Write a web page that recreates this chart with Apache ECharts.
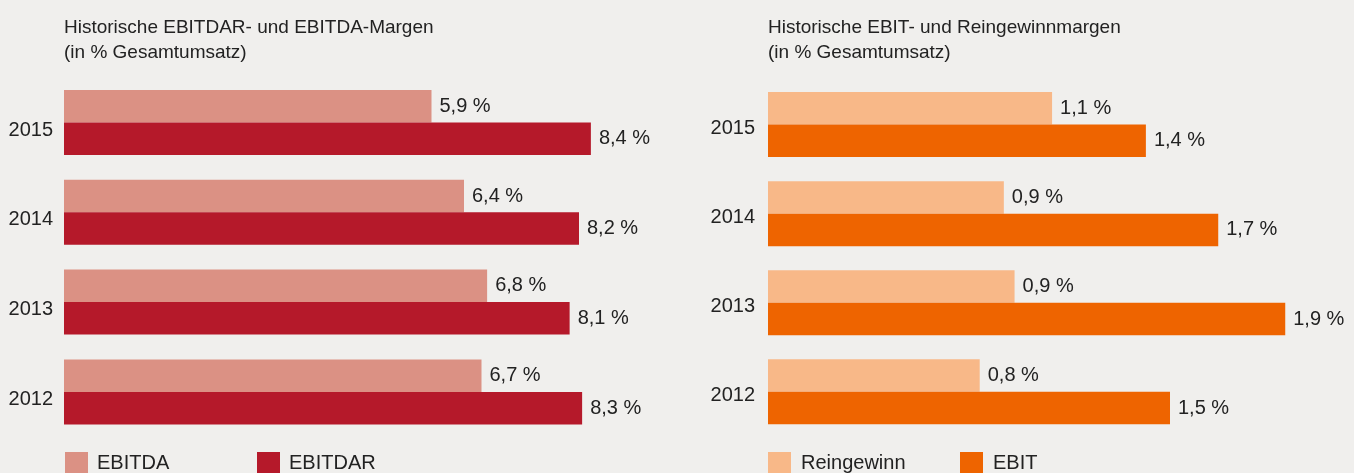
<!DOCTYPE html>
<html>
<head>
<meta charset="utf-8">
<script src="https://cdn.jsdelivr.net/npm/echarts@6/dist/echarts.min.js"></script>
<style>
  html, body { margin: 0; padding: 0; background: #f0efed; }
  #chart { width: 1354px; height: 473px; }
</style>
</head>
<body>
<div id="chart"></div>
<script>
// Jahre (oben nach unten)
const years = ['2015', '2014', '2013', '2012'];

// linkes Diagramm: EBITDA / EBITDAR in % Gesamtumsatz
const ebitda = [5.88, 6.40, 6.77, 6.68];
const ebitdar = [8.43, 8.24, 8.09, 8.29];

// rechtes Diagramm: Reingewinn / EBIT in % Gesamtumsatz
const reingewinn = [1.06, 0.88, 0.92, 0.79];
const ebit = [1.41, 1.68, 1.93, 1.50];

const TEXT = '#222222';
const FONT = 'Liberation Sans, Arial, Helvetica, sans-serif';

const fmt = (p) => p.value.toFixed(1).replace('.', ',') + ' %';

function valueLabel() {
  return {
    show: true,
    position: 'right',
    distance: 8,
    formatter: fmt,
    color: TEXT,
    fontFamily: FONT,
    fontSize: 20
  };
}

function legendItem(name, left, pad) {
  return {
    data: [name],
    left: left,
    top: 452,
    icon: 'rect',
    itemWidth: 23,
    itemHeight: 23,
    padding: 0,
    selectedMode: false,
    textStyle: { color: TEXT, fontFamily: FONT, fontSize: 20, padding: [0, 0, 0, pad] }
  };
}

function yearAxis(grid, margin, shift) {
  // Jahreszahlen sitzen etwas unter der Mitte der Balkengruppe
  return {
    gridIndex: grid, type: 'category', data: years, inverse: true,
    axisLine: { show: false }, axisTick: { show: false },
    axisLabel: {
      color: TEXT, fontFamily: FONT, fontSize: 20, margin: margin,
      verticalAlign: 'top', lineHeight: shift * 2
    }
  };
}

const chart = echarts.init(document.getElementById('chart'));

chart.setOption({
  backgroundColor: '#f0efed',
  animation: false,
  title: [
    {
      text: 'Historische EBITDAR- und EBITDA-Margen\n(in % Gesamtumsatz)',
      left: 64, top: 15, padding: 0,
      textStyle: { color: TEXT, fontFamily: FONT, fontSize: 19, fontWeight: 'normal', lineHeight: 25.5 }
    },
    {
      text: 'Historische EBIT- und Reingewinnmargen\n(in % Gesamtumsatz)',
      left: 768, top: 15, padding: 0,
      textStyle: { color: TEXT, fontFamily: FONT, fontSize: 19, fontWeight: 'normal', lineHeight: 25.5 }
    }
  ],
  legend: [
    legendItem('EBITDA', 65, 4),
    legendItem('EBITDAR', 257, 4),
    legendItem('Reingewinn', 768, 5),
    legendItem('EBIT', 960, 5)
  ],
  grid: [
    { left: 64, top: 77.6, width: 625, height: 359.2 },
    { left: 768, top: 80, width: 536, height: 356.4 }
  ],
  xAxis: [
    { gridIndex: 0, type: 'value', min: 0, max: 10, show: false },
    { gridIndex: 1, type: 'value', min: 0, max: 2, show: false }
  ],
  yAxis: [
    yearAxis(0, 11, 7.5),
    yearAxis(1, 13, 4)
  ],
  series: [
    {
      name: 'EBITDA', type: 'bar', xAxisIndex: 0, yAxisIndex: 0,
      data: ebitda, barWidth: 32.5, barGap: '0%',
      itemStyle: { color: '#db9184' }, label: valueLabel()
    },
    {
      name: 'EBITDAR', type: 'bar', xAxisIndex: 0, yAxisIndex: 0,
      data: ebitdar, barWidth: 32.5, barGap: '0%',
      itemStyle: { color: '#b5192a' }, label: valueLabel()
    },
    {
      name: 'Reingewinn', type: 'bar', xAxisIndex: 1, yAxisIndex: 1,
      data: reingewinn, barWidth: 32.5, barGap: '0%',
      itemStyle: { color: '#f8b888' }, label: valueLabel()
    },
    {
      name: 'EBIT', type: 'bar', xAxisIndex: 1, yAxisIndex: 1,
      data: ebit, barWidth: 32.5, barGap: '0%',
      itemStyle: { color: '#ee6400' }, label: valueLabel()
    }
  ]
});

window.addEventListener('resize', () => chart.resize());
</script>
</body>
</html>
